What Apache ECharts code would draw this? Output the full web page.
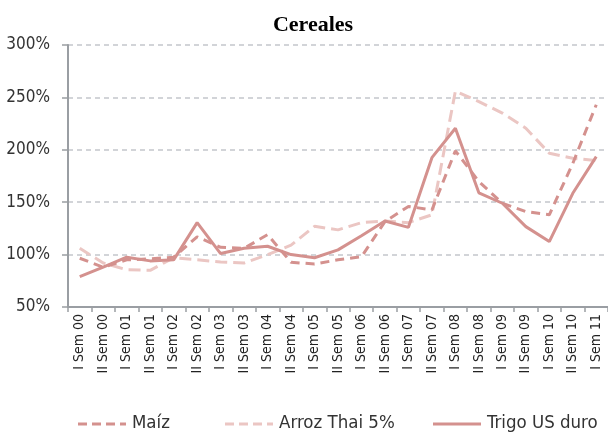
<!DOCTYPE html>
<html><head><meta charset="utf-8">
<script src="https://cdn.jsdelivr.net/npm/echarts@6/dist/echarts.min.js"></script>
<style>html,body{margin:0;padding:0;background:#fff}#c{width:608px;height:433px}</style>
</head><body><div id="c"></div>
<script>
const categories = ['I Sem 00','II Sem 00','I Sem 01','II Sem 01','I Sem 02','II Sem 02','I Sem 03','II Sem 03','I Sem 04','II Sem 04','I Sem 05','II Sem 05','I Sem 06','II Sem 06','I Sem 07','II Sem 07','I Sem 08','II Sem 08','I Sem 09','II Sem 09','I Sem 10','II Sem 10','I Sem 11'];
const seriesNames = ['Maíz', 'Arroz Thai 5%', 'Trigo US duro'];
const maiz  = [96.5, 88, 95, 96, 97.5, 117, 107, 106, 119, 92.7, 91, 95, 98, 131.5, 146, 142.6, 199, 169.7, 149, 141, 138, 187, 243];
const arroz = [106, 92, 85.5, 85, 97, 95, 93, 92, 100, 109, 127, 123.6, 130.5, 132, 130.5, 138, 256, 246, 235, 220.6, 196.7, 192, 189.7];
const trigo = [79, 88, 97.5, 94, 95, 130.5, 101, 106, 108, 100, 97, 104.5, 118, 132, 126, 192.5, 220.6, 159, 149, 126.7, 112.4, 158.5, 193.5];
const yTicks = [50, 100, 150, 200, 250, 300];

const dark = '#d4918e', light = '#ebc6c3';
const narrow = "'Liberation Sans Narrow','DejaVu Sans Condensed',sans-serif";
const styles = [
  {color:dark, type:[9,6]},
  {color:light, type:[12,6]},
  {color:dark, type:'solid'}
];
const legendX = [78, 225, 433];
const legendGraphics = [];
seriesNames.forEach((n,i)=>{
  legendGraphics.push({type:'line', shape:{x1:legendX[i], y1:424, x2:legendX[i]+48, y2:424},
    style:{stroke:styles[i].color, lineWidth:3, lineDash:styles[i].type==='solid'?null:[9,5]}});
  legendGraphics.push({type:'text', x:legendX[i]+54, y:423,
    style:{text:n, font:"18.5px "+narrow, fill:'#333', textVerticalAlign:'middle', verticalAlign:'middle'}});
});

const chart = echarts.init(document.getElementById('c'), null, {renderer:'canvas'});
chart.setOption({
  animation:false,
  graphic:[{type:'text', x:313, y:25,
    style:{text:'Cereales', font:"bold 22px 'Liberation Serif',serif", fill:'#000', textAlign:'center', align:'center', textVerticalAlign:'middle', verticalAlign:'middle'}}].concat(legendGraphics),
  grid:{left:68, top:45, width:543, height:262, containLabel:false},
  xAxis:{type:'category', data:categories, boundaryGap:true,
    axisLine:{lineStyle:{color:'#9a9ea3', width:2}},
    axisTick:{show:true, length:5, lineStyle:{color:'#9a9ea3', width:1.5}},
    axisLabel:{rotate:90, interval:0, fontFamily:narrow, fontSize:14, color:'#222', margin:7}},
  yAxis:{type:'value', min:50, max:300, interval:50,
    axisLine:{show:true, lineStyle:{color:'#9a9ea3', width:2}},
    axisTick:{show:true, length:6, lineStyle:{color:'#9a9ea3', width:1.5}},
    axisLabel:{formatter:v=>yTicks.includes(v)?v+'%':'', fontFamily:narrow, fontSize:17, color:'#333', margin:18},
    splitLine:{lineStyle:{color:'#c3c6cb', type:[5,4], width:1.5}}},
  series:[
    {name:seriesNames[0], type:'line', data:maiz, symbol:'none', color:dark,
     lineStyle:{color:dark, width:3, type:styles[0].type}, z:3},
    {name:seriesNames[1], type:'line', data:arroz, symbol:'none', color:light,
     lineStyle:{color:light, width:3, type:styles[1].type}, z:2},
    {name:seriesNames[2], type:'line', data:trigo, symbol:'none', color:dark,
     lineStyle:{color:dark, width:3}, z:4}
  ]
});
</script></body></html>
